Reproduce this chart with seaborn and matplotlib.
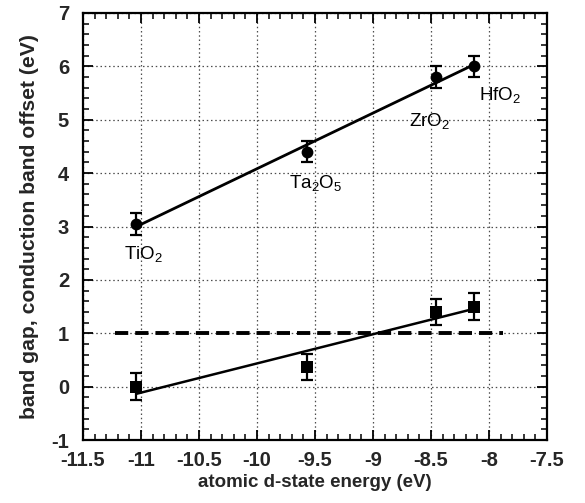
import numpy as np
import pandas as pd
import matplotlib
matplotlib.use("Agg")
import matplotlib.pyplot as plt
import seaborn as sns
from matplotlib.ticker import MultipleLocator

# d-state energies of the metal atoms (eV)
oxides = ["TiO$_2$", "Ta$_2$O$_5$", "ZrO$_2$", "HfO$_2$"]
d_energy = [-11.04, -9.57, -8.46, -8.13]

# band gaps and conduction band offsets (eV)
band_gap = [3.05, 4.4, 5.8, 6.0]
gap_err = [0.2, 0.2, 0.2, 0.2]
cb_offset = [0.0, 0.37, 1.4, 1.5]
cbo_err = [0.25, 0.25, 0.25, 0.25]

# oxide name label positions (data coords)
label_x = [-10.98, -9.49, -8.51, -7.905]
label_y = [2.49, 3.82, 4.98, 5.46]

# 1 eV reference level
ref_level = 1.0
ref_span = [-11.22, -7.88]

x_ticks = [-11.5, -11, -10.5, -10, -9.5, -9, -8.5, -8, -7.5]
x_tick_labels = ["-11.5", "-11", "-10.5", "-10", "-9.5", "-9", "-8.5", "-8", "-7.5"]
y_ticks = [-1, 0, 1, 2, 3, 4, 5, 6, 7]
y_tick_labels = ["-1", "0", "1", "2", "3", "4", "5", "6", "7"]

df = pd.DataFrame({"E": d_energy, "gap": band_gap, "cbo": cb_offset})

sns.set_theme(style="ticks")
plt.rcParams["font.family"] = ["Liberation Sans", "DejaVu Sans"]
plt.rcParams["mathtext.fontset"] = "custom"
plt.rcParams["mathtext.rm"] = "Liberation Sans"
plt.rcParams["mathtext.it"] = "Liberation Sans"
plt.rcParams["mathtext.bf"] = "Liberation Sans:bold"

fig = plt.figure(figsize=(5.85, 5.03), dpi=100)
ax = fig.add_axes([83 / 585, 1 - 440 / 503, 464 / 585, 427 / 503])

ax.set_xlim(-11.5, -7.5)
ax.set_ylim(-1, 7)

ax.grid(True, which="major", color="0.3", linestyle=(0, (1.2, 2.2)), linewidth=0.9)
ax.set_axisbelow(True)

# least-squares trend lines
sns.regplot(data=df, x="E", y="gap", ci=None, scatter=False, ax=ax,
            line_kws=dict(color="black", linewidth=2.0))
sns.regplot(data=df, x="E", y="cbo", ci=None, scatter=False, ax=ax,
            line_kws=dict(color="black", linewidth=1.8))

# reference level
ax.plot(ref_span, [ref_level, ref_level], color="black", linewidth=2.8,
        dashes=(3.4, 1.8), zorder=3)

# data points with error bars
ax.errorbar(d_energy, band_gap, yerr=gap_err, fmt="none", ecolor="black",
            elinewidth=1.6, capsize=4.3, capthick=1.6, zorder=4)
ax.errorbar(d_energy, cb_offset, yerr=cbo_err, fmt="none", ecolor="black",
            elinewidth=1.6, capsize=4.3, capthick=1.6, zorder=4)
sns.scatterplot(data=df, x="E", y="gap", marker="o", s=72, color="black",
                edgecolor="black", linewidth=0, ax=ax, zorder=5)
sns.scatterplot(data=df, x="E", y="cbo", marker="s", s=82, color="black",
                edgecolor="black", linewidth=0, ax=ax, zorder=5)

for name, lx, ly in zip(oxides, label_x, label_y):
    ax.text(lx, ly, name, ha="center", va="center", fontsize=13.5, color="black")

ax.set_xticks(x_ticks)
ax.set_xticklabels(x_tick_labels, fontsize=14.5, fontweight="bold")
ax.set_yticks(y_ticks)
ax.set_yticklabels(y_tick_labels, fontsize=14.5, fontweight="bold")
ax.xaxis.set_minor_locator(MultipleLocator(0.1))
ax.yaxis.set_minor_locator(MultipleLocator(0.2))

ax.tick_params(which="both", direction="in", top=True, right=True, color="black")
ax.tick_params(which="major", length=7, width=1.3)
ax.tick_params(axis="x", which="major", pad=8)
ax.tick_params(axis="y", which="major", pad=10)
ax.tick_params(which="minor", length=4, width=1.1)

for sp in ax.spines.values():
    sp.set_visible(True)
    sp.set_color("black")
    sp.set_linewidth(1.6)

ax.set_xlabel("atomic d-state energy (eV)", fontsize=13.5, fontweight="bold", labelpad=3)
ax.set_ylabel("band gap, conduction band offset (eV)", fontsize=15.2,
              fontweight="bold", labelpad=9)

fig.savefig("out.png", dpi=100)
